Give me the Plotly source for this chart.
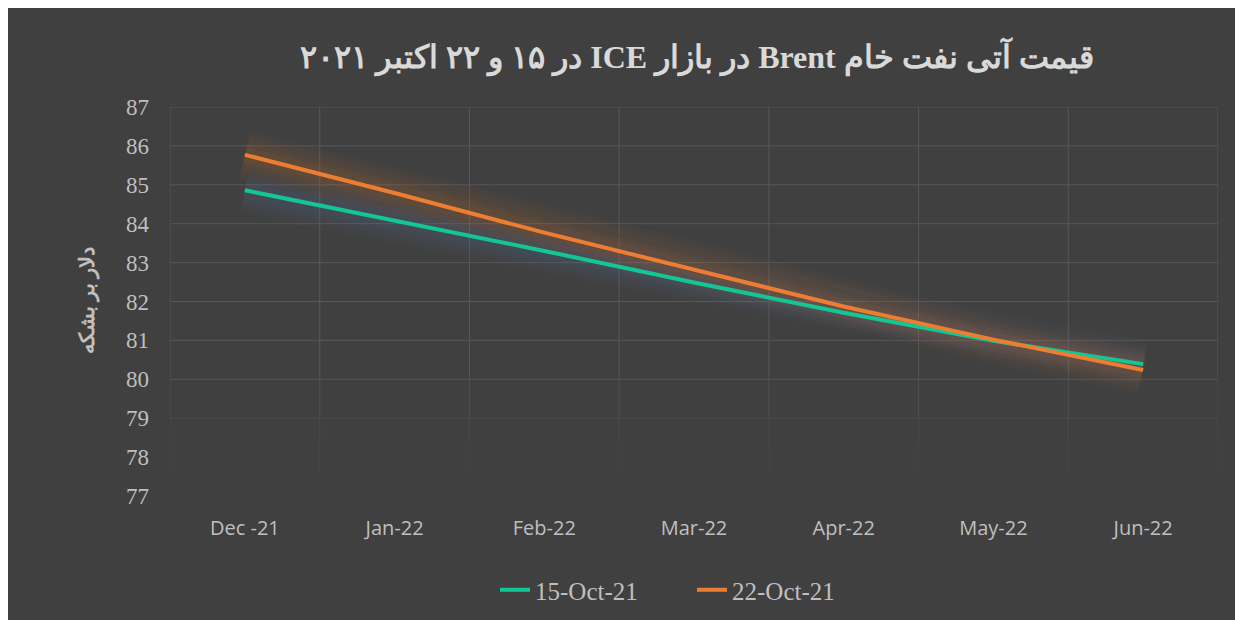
import plotly.graph_objects as go

months = ["Dec -21", "Jan-22", "Feb-22", "Mar-22", "Apr-22", "May-22", "Jun-22"]
oct15 = [84.86, 84.09, 83.30, 82.49, 81.71, 80.99, 80.39]
oct22 = [85.77, 84.79, 83.77, 82.81, 81.87, 81.02, 80.24]
series_names = ["15-Oct-21", "22-Oct-21"]
y_ticks = [77, 78, 79, 80, 81, 82, 83, 84, 85, 86, 87]

title_text = "<b>\u202Bقیمت آتی نفت خام Brent در بازار ICE در ۱۵ و ۲۲ اکتبر ۲۰۲۱\u202C</b>"
ytitle_text = "<b>\u202Bدلار بر بشکه\u202C</b>"

BG = "#404040"
GREEN = "#13C795"
ORANGE = "#ED7D31"
TXT = "#BFBFBF"

OFF = 8  # page body margin offset
W, H = 1243, 620
ML = 170 - OFF
MT = 107 - OFF
MR = W - (1218 - OFF)
MB = H - (496 - OFF)
PW, PH = W - ML - MR, H - MT - MB

fig = go.Figure()

# glow layers
for vals, gc in [(oct15, "rgba(85,120,175,{a})"), (oct22, "rgba(215,115,45,{a})")]:
    for w, a in [(48, 0.03), (40, 0.035), (32, 0.045), (24, 0.055), (16, 0.07)]:
        fig.add_trace(go.Scatter(x=months, y=vals, mode="lines",
                                 line=dict(color=gc.format(a=a), width=w),
                                 hoverinfo="skip", showlegend=False))

fig.add_trace(go.Scatter(x=months, y=oct15, mode="lines", name=series_names[0],
                         line=dict(color=GREEN, width=4)))
fig.add_trace(go.Scatter(x=months, y=oct22, mode="lines", name=series_names[1],
                         line=dict(color=ORANGE, width=4)))

shapes = []
GRID = "#575757"
for v in y_ticks:
    if v >= 80:
        op = 1.0
    elif v == 79:
        op = 0.45
    else:
        continue
    shapes.append(dict(type="line", xref="x", yref="y", x0=-0.5, x1=len(months) - 0.5,
                       y0=v, y1=v, line=dict(color=GRID, width=1), opacity=op, layer="below"))
segs = [(87, 80, 1.0), (80, 79, 0.7), (79, 78.4, 0.4), (78.4, 77.6, 0.18)]
for i in range(len(months) + 1):
    xb = i - 0.5
    for y0, y1, op in segs:
        shapes.append(dict(type="line", xref="x", yref="y", x0=xb, x1=xb, y0=y0, y1=y1,
                           line=dict(color=GRID, width=1), opacity=op, layer="below"))

fig.update_layout(
    width=W, height=H,
    paper_bgcolor=BG, plot_bgcolor=BG,
    margin=dict(l=ML, r=MR, t=MT, b=MB),
    title=dict(text=title_text, x=(697 - OFF) / W, xanchor="center", y=1 - (57 - OFF) / H,
               yanchor="middle",
               font=dict(family="Liberation Serif, DejaVu Serif, serif", size=32, color="#D9D9D9")),
    xaxis=dict(type="category", range=[-0.5, len(months) - 0.5], showgrid=False,
               zeroline=False, showline=False,
               tickfont=dict(family="Open Sans, sans-serif", size=20, color=TXT),
               ticks="", ticklabelstandoff=18),
    yaxis=dict(range=[77, 87], tickvals=y_ticks, showgrid=False, zeroline=False, showline=False,
               tickfont=dict(family="Liberation Serif, serif", size=23, color=TXT),
               ticks="", ticklabelstandoff=20),
    showlegend=True,
    legend=dict(orientation="h", x=(495 - 170) / PW, xanchor="left", y=-(590 - 496) / PH,
                yanchor="middle", bgcolor="rgba(0,0,0,0)",
                font=dict(family="Liberation Serif, serif", size=25, color=TXT),
                entrywidth=152, entrywidthmode="pixels", tracegroupgap=0),
    shapes=shapes,
    annotations=[dict(text=ytitle_text, xref="paper", yref="paper",
                      x=-(170 - 87) / PW, y=(496 - 300) / PH, textangle=-90,
                      showarrow=False, xanchor="center", yanchor="middle",
                      font=dict(family="Liberation Serif, DejaVu Serif, serif", size=21, color=TXT))],
)

fig.write_html("out.html")
